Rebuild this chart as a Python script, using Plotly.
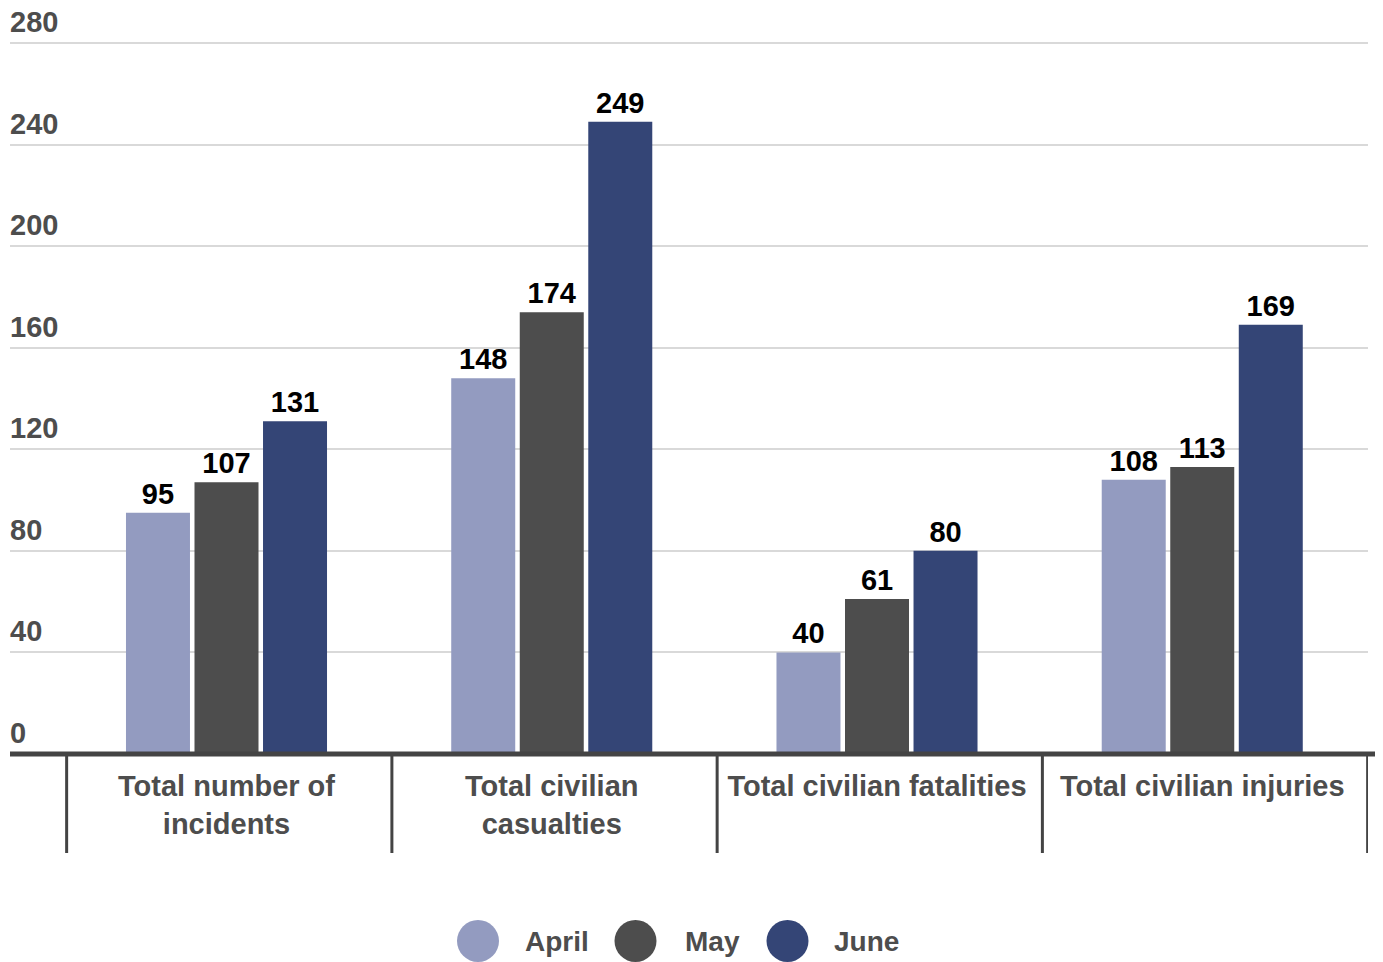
import plotly.graph_objects as go

# Data
categories = [
    "Total number of<br>incidents",
    "Total civilian<br>casualties",
    "Total civilian fatalities",
    "Total civilian injuries",
]
series_names = ["April", "May", "June"]
april = [95, 148, 40, 108]
may = [107, 174, 61, 113]
june = [131, 249, 80, 169]
y_ticks = [0, 40, 80, 120, 160, 200, 240, 280]

colors = ["#939bc0", "#4d4d4d", "#344576"]
FONT = "Liberation Sans, Arial, Helvetica, sans-serif"
GREY = "#4d4d4d"

W, H = 1383, 962
ML, MR, MT, MB = 10, 15, 42, 208
plot_w = W - ML - MR
plot_h = H - MT - MB
Y_MAX = 280.4

x_pos = list(range(len(categories)))

fig = go.Figure()
for name, vals, col in zip(series_names, [april, may, june], colors):
    fig.add_trace(go.Bar(
        name=name,
        x=x_pos,
        y=vals,
        marker=dict(color=col, line=dict(width=0)),
        text=vals,
        textposition="outside",
        constraintext="none",
        cliponaxis=False,
        textfont=dict(family=FONT, size=29, color="#000000", weight="bold"),
        showlegend=False,
    ))

# category dividers below the baseline
shapes = []
for k in range(len(categories) + 1):
    xv = k - 0.5 + 0.0085
    shapes.append(dict(
        type="line", xref="x", yref="paper",
        x0=xv, x1=xv, y0=0, y1=-(853 - 754) / plot_h,
        line=dict(color="#444444", width=3),
    ))

# baseline
shapes.append(dict(
    type="line", xref="paper", yref="paper",
    x0=0, x1=(1375 - ML) / plot_w, y0=0, y1=0,
    line=dict(color="#444444", width=5),
))

annotations = []

# value-axis labels sitting above their gridlines
for v in y_ticks:
    annotations.append(dict(
        xref="paper", yref="y", x=0, y=v,
        xanchor="left", yanchor="bottom",
        xshift=-2, yshift=3,
        text=str(v), showarrow=False,
        font=dict(family=FONT, size=29, color=GREY, weight="bold"),
    ))

# legend: circles with labels
legend_circle_px = [478, 635.5, 787.5]
legend_text_px = [523, 683, 832]
legend_y = -(941 - 754) / plot_h
for name, col, cx, tx in zip(series_names, colors, legend_circle_px, legend_text_px):
    shapes.append(dict(
        type="circle", xref="paper", yref="paper",
        xsizemode="pixel", ysizemode="pixel",
        xanchor=(cx - ML) / plot_w, yanchor=legend_y,
        x0=-21, x1=21, y0=-21, y1=21,
        fillcolor=col, line=dict(width=0),
    ))
    annotations.append(dict(
        xref="paper", yref="paper",
        x=(tx - ML) / plot_w, y=legend_y,
        xanchor="left", yanchor="middle",
        text=name, showarrow=False,
        font=dict(family=FONT, size=28, color=GREY, weight="bold"),
    ))

fig.update_layout(
    width=W, height=H,
    margin=dict(l=ML, r=MR, t=MT, b=MB),
    paper_bgcolor="white",
    plot_bgcolor="white",
    barmode="group",
    bargap=0.368,
    bargroupgap=0.066,
    shapes=shapes,
    annotations=annotations,
    showlegend=False,
    xaxis=dict(
        range=[(ML - 226.5) / 325.25, (W - MR - 226.5) / 325.25],
        tickmode="array",
        tickvals=x_pos,
        ticktext=categories,
        showgrid=False,
        showline=False,
        zeroline=False,
        ticks="",
        ticklabelstandoff=12,
        tickfont=dict(family=FONT, size=29, color=GREY, weight="bold"),
        fixedrange=True,
    ),
    yaxis=dict(
        range=[0, Y_MAX],
        tickmode="array",
        tickvals=y_ticks,
        showgrid=True,
        gridcolor="#d9d9d9",
        gridwidth=2,
        zeroline=False,
        showline=False,
        ticks="",
        showticklabels=False,
        fixedrange=True,
    ),
)

fig.write_html("out.html")
